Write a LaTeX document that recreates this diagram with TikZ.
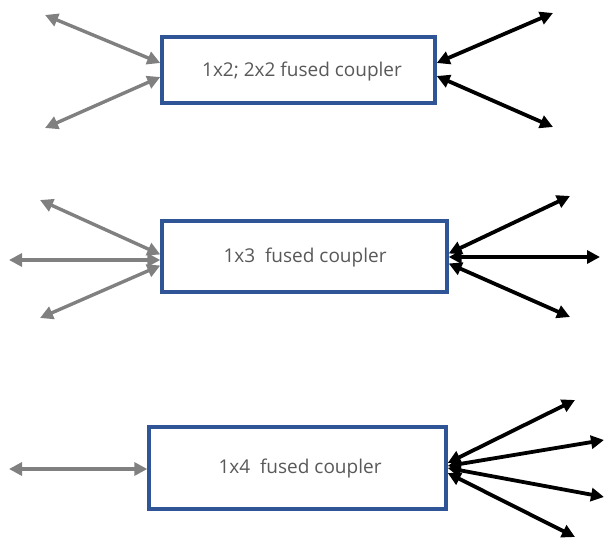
\documentclass[tikz,border=0pt]{standalone}
\usepackage{fontspec}
\setmainfont{Open Sans}
\usetikzlibrary{arrows.meta}
\definecolor{boxblue}{HTML}{2F5597}
\definecolor{txtgray}{HTML}{595959}
\definecolor{arrgray}{HTML}{808080}
\tikzset{
  coupler/.style={draw=boxblue, line width=3.4pt, fill=white, rectangle, inner sep=0pt},
  label/.style={text=txtgray, font=\fontsize{19}{22}\selectfont, inner sep=0pt},
  dbl/.style={line width=3.4pt, {Triangle[length=13pt,width=13pt]}-{Triangle[length=13pt,width=13pt]}},
  grayarr/.style={dbl, draw=arrgray, fill=arrgray},
  blackarr/.style={dbl, draw=black, fill=black, line width=3.8pt},
}
\begin{document}
\begin{tikzpicture}[x=1pt,y=-1pt]
\useasboundingbox (0,0) rectangle (605,540);
% boxes
\node[coupler, minimum width=273pt, minimum height=66pt] (b1) at (298.5,70) {};
\node[label] (t1) at (302,72) {1x2; 2x2 fused coupler};
\node[coupler, minimum width=285pt, minimum height=71pt] (b2) at (304.5,256.5) {};
\node[label] (t2) at (305,258) {1x3\ \ fused coupler};
\node[coupler, minimum width=297pt, minimum height=82pt] (b3) at (297.5,468) {};
\node[label] (t3) at (300,469) {1x4\ \ fused coupler};
% free ends
\coordinate (a1) at (45,15);
\coordinate (a2) at (45,128);
\coordinate (a3) at (553,13);
\coordinate (a4) at (553,127);
\coordinate (c1) at (40,200);
\coordinate (c2) at (9,260);
\coordinate (c3) at (40,318);
\coordinate (c4) at (570,196);
\coordinate (c5) at (600,257);
\coordinate (c6) at (570,317);
\coordinate (d1) at (9,469);
\coordinate (d2) at (575,400);
\coordinate (d3) at (604,440);
\coordinate (d4) at (604,497);
\coordinate (d5) at (575,537);
% box 1 connectors
\draw[grayarr] (a1) -- ([yshift=7pt]b1.west);
\draw[grayarr] (a2) -- ([yshift=-7pt]b1.west);
\draw[blackarr] ([yshift=7pt]b1.east) -- (a3);
\draw[blackarr] ([yshift=-6pt]b1.east) -- (a4);
% box 2 connectors
\draw[grayarr] (c1) -- ([yshift=2pt]b2.west);
\draw[grayarr] (c2) -- ([yshift=-3.5pt]b2.west);
\draw[grayarr] (c3) -- ([yshift=-9pt]b2.west);
\draw[blackarr] ([yshift=3pt]b2.east) -- (c4);
\draw[blackarr] ([yshift=-0.5pt]b2.east) -- (c5);
\draw[blackarr] ([yshift=-7pt]b2.east) -- (c6);
% box 3 connectors
\draw[grayarr] (d1) -- ([yshift=-1pt]b3.west);
\draw[blackarr] ([yshift=5pt]b3.east) -- (d2);
\draw[blackarr] ([yshift=2pt]b3.east) -- (d3);
\draw[blackarr] ([yshift=0pt]b3.east) -- (d4);
\draw[blackarr] ([yshift=-5pt]b3.east) -- (d5);
\end{tikzpicture}
\end{document}
